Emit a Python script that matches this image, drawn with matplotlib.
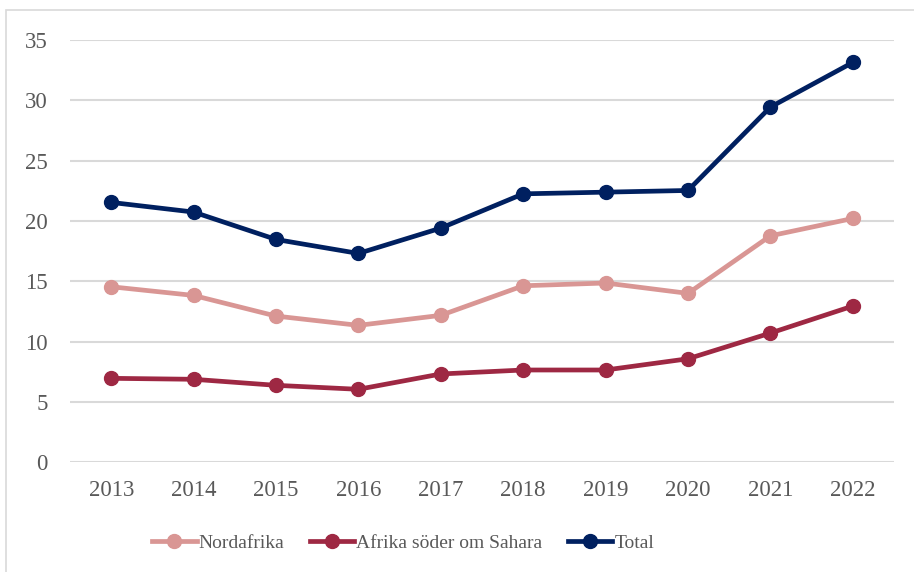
"""Utvandring till Afrika 2013-2022, linjediagram"""

import matplotlib.pyplot as plt
from matplotlib.patches import Rectangle

# Data (avlästa värden)
years = ["2013", "2014", "2015", "2016", "2017", "2018", "2019", "2020", "2021", "2022"]
nordafrika = [14.55, 13.83, 12.12, 11.35, 12.18, 14.63, 14.86, 14.0, 18.77, 20.21]
afrika_soder = [6.96, 6.88, 6.38, 6.05, 7.32, 7.65, 7.65, 8.58, 10.71, 12.95]
total = [21.54, 20.74, 18.47, 17.31, 19.41, 22.25, 22.39, 22.53, 29.44, 33.14]
y_ticks = [0, 5, 10, 15, 20, 25, 30, 35]

plt.rcParams["font.family"] = ["Liberation Serif", "DejaVu Serif"]

fig = plt.figure(figsize=(9.14, 5.72), dpi=100)
ax = fig.add_axes([70 / 914, 1 - 462.3 / 572, 824 / 914, 422.3 / 572])

x = range(len(years))
ax.plot(x, nordafrika, color="#D99694", lw=3.4, marker="o", ms=10, label="Nordafrika")
ax.plot(x, afrika_soder, color="#9E2843", lw=3.4, marker="o", ms=10, label="Afrika söder om Sahara")
ax.plot(x, total, color="#002060", lw=3.4, marker="o", ms=10, label="Total")

# Axes and grid
ax.set_xlim(-0.5, len(years) - 0.5)
ax.set_ylim(0, 35)
ax.set_xticks(list(x))
ax.set_xticklabels(years)
ax.set_yticks(y_ticks)
ax.yaxis.grid(True, color="#D9D9D9", lw=1.5)
ax.set_axisbelow(True)
for s in ax.spines.values():
    s.set_visible(False)
ax.tick_params(axis="both", length=0, labelsize=16.5, labelcolor="#595959")
ax.tick_params(axis="x", pad=13)
ax.tick_params(axis="y", pad=16)

# Legend below
fig.legend(loc="center", bbox_to_anchor=(403 / 914, 1 - 543 / 572), ncol=3,
           frameon=False, fontsize=14, labelcolor="#595959",
           handlelength=2.3, handletextpad=0.1, columnspacing=1.3)

# Border round the chart
fig.patches.append(Rectangle((6 / 914, -0.1), 1.0, 1 - 10 / 572 + 0.1,
                             transform=fig.transFigure, fill=False,
                             edgecolor="#D9D9D9", lw=1.2))

fig.savefig("out.png", dpi=100)
